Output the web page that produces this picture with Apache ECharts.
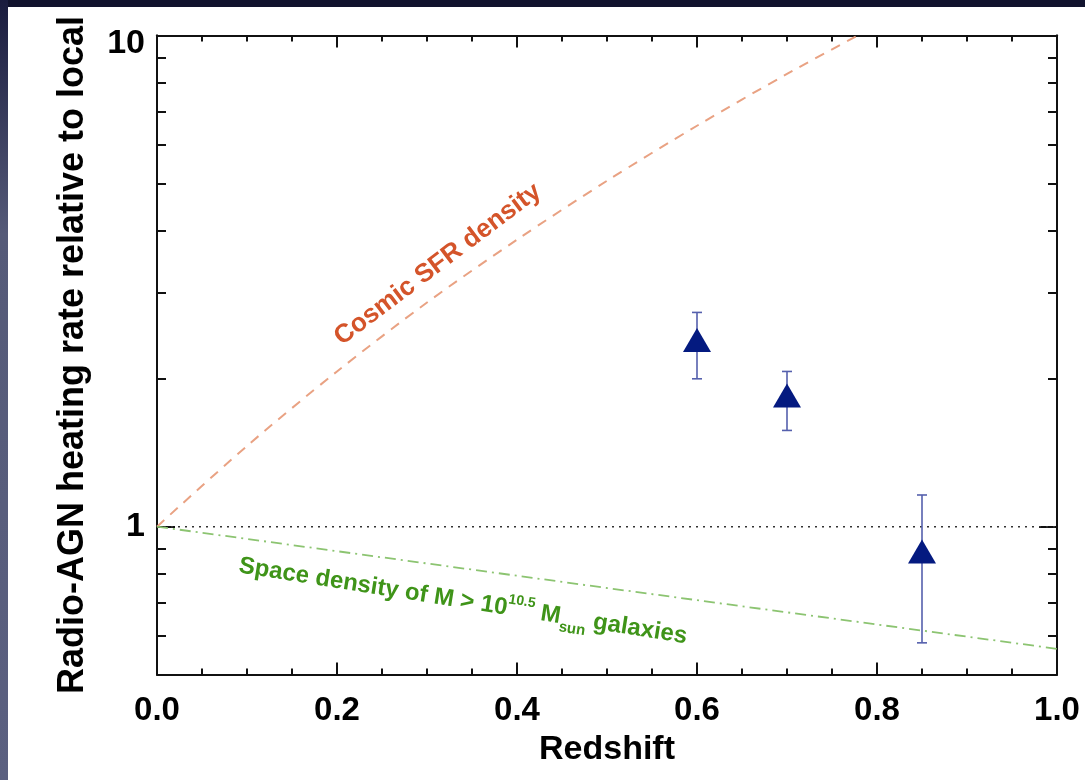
<!DOCTYPE html>
<html><head><meta charset="utf-8">
<script src="https://cdn.jsdelivr.net/npm/echarts@6/dist/echarts.min.js"></script>
<style>
html,body{margin:0;padding:0;width:1085px;height:780px;overflow:hidden;background:#11132e;}
#strip{position:absolute;left:0;top:0;width:8px;height:780px;background:linear-gradient(#1a1c3e,#555a78 30%,#5b6080);}
#chart{position:absolute;left:8px;top:7px;width:1077px;height:773px;background:#fff;}
</style></head><body><div id="strip"></div><div id="chart"></div>
<script>
// measured points (triangles) with error bars
const redshift = [0.6, 0.7, 0.85];
const rate = [2.40, 1.85, 0.89];
const rateLow = [2.00, 1.57, 0.58];
const rateHigh = [2.73, 2.07, 1.16];
// cosmic SFR density curve
const sfrZ = [0, 0.1, 0.2, 0.3, 0.4, 0.5, 0.6, 0.7, 0.8];
const sfrRate = [1.00, 1.46, 2.07, 2.86, 3.84, 5.06, 6.55, 8.35, 10.5];
// space density of massive galaxies
const massZ = [0, 0.5, 1.0];
const massRate = [1.00, 0.75, 0.564];
// unity reference line
const unityZ = [0, 1];
const unityRate = [1, 1];
// axis ticks
const yMajor = [1, 10];
const yMinor = [0.6, 0.7, 0.8, 0.9, 2, 3, 4, 5, 6, 7, 8, 9];
// annotation anchors
const sfrLabelPos = [0.312, 3.42];
const massLabelPos = [0.34, 0.705];

const FONT = '"Liberation Sans", Arial, sans-serif';
const AX = '#111';
const chart = echarts.init(document.getElementById('chart'));

const yLabelStyle = {fontFamily: FONT, fontWeight: 'bold', fontSize: 34, color: '#000'};
function yAx(pos, ticks, len, labels) {
  return {
    type: 'log', logBase: 10, min: 0.5, max: 10, position: pos,
    axisLine: {show: true, lineStyle: {color: AX, width: 2}},
    axisTick: {show: true, inside: true, length: len, customValues: ticks, lineStyle: {color: AX, width: 2}},
    axisLabel: labels ? {
      show: true, customValues: labels, margin: 12,
      formatter: v => (v >= 10 ? '{lo|' : '{n|') + v + '}',
      rich: {n: yLabelStyle, lo: Object.assign({padding: [16, 0, 0, 0]}, yLabelStyle)}
    } : {show: false},
    splitLine: {show: false}, minorTick: {show: false}
  };
}
const yAxes = [
  yAx('left', yMajor, 18, yMajor),
  yAx('left', yMinor, 9, null),
  yAx('right', yMajor, 18, null),
  yAx('right', yMinor, 9, null)
];
yAxes[0].name = 'Radio-AGN heating rate relative to local';
yAxes[0].nameLocation = 'middle';
yAxes[0].nameRotate = 90;
yAxes[0].nameGap = 66;
yAxes[0].nameTextStyle = {fontFamily: FONT, fontWeight: 'bold', fontSize: 36, color: '#000'};

function xAx(pos, showLabel) {
  return {
    type: 'value', min: 0, max: 1, interval: 0.2, position: pos,
    axisLine: {show: true, onZero: false, lineStyle: {color: AX, width: 2}},
    axisTick: {show: true, inside: true, length: 12, lineStyle: {color: AX, width: 2}},
    minorTick: {show: true, splitNumber: 4, length: 6, lineStyle: {color: AX, width: 2}},
    axisLabel: showLabel ? {show: true, formatter: v => v.toFixed(1), fontFamily: FONT, fontWeight: 'bold', fontSize: 33, color: '#000', margin: 20} : {show: false},
    splitLine: {show: false}
  };
}
const xAxes = [xAx('bottom', true), xAx('top', false)];
xAxes[0].name = 'Redshift';
xAxes[0].nameLocation = 'middle';
xAxes[0].nameGap = 52;
xAxes[0].nameTextStyle = {fontFamily: FONT, fontWeight: 'bold', fontSize: 34, color: '#000'};

const green = '#3f9419';
chart.setOption({
  animation: false,
  backgroundColor: '#fff',
  grid: {left: 149, right: 28, top: 28.5, bottom: 105.5, containLabel: false},
  xAxis: xAxes,
  yAxis: yAxes,
  series: [
    {
      type: 'line', data: unityZ.map((z, i) => [z, unityRate[i]]), symbol: 'none', silent: true,
      lineStyle: {color: '#333', width: 1.5, type: [2, 5]}, z: 1
    },
    {
      type: 'line', data: sfrZ.map((z, i) => [z, sfrRate[i]]), symbol: 'none', smooth: 0.3, silent: true, clip: true,
      lineStyle: {color: '#e9a283', width: 2, type: [10, 8]}, z: 2
    },
    {
      type: 'line', data: massZ.map((z, i) => [z, massRate[i]]), symbol: 'none', silent: true,
      lineStyle: {color: '#8cc471', width: 1.8, type: [11, 5, 2, 5]}, z: 2
    },
    {
      type: 'custom', z: 3, silent: true,
      data: redshift.map((z, i) => [z, rateLow[i], rateHigh[i]]),
      encode: {x: 0, y: [1, 2]},
      renderItem: function (params, api) {
        const x = api.value(0);
        const lo = api.coord([x, api.value(1)]);
        const hi = api.coord([x, api.value(2)]);
        const w = 5;
        const st = {stroke: '#5560ad', lineWidth: 1.6};
        return {type: 'group', children: [
          {type: 'line', shape: {x1: lo[0], y1: lo[1], x2: hi[0], y2: hi[1]}, style: st},
          {type: 'line', shape: {x1: lo[0] - w, y1: lo[1], x2: lo[0] + w, y2: lo[1]}, style: st},
          {type: 'line', shape: {x1: hi[0] - w, y1: hi[1], x2: hi[0] + w, y2: hi[1]}, style: st}
        ]};
      }
    },
    {
      type: 'scatter', data: redshift.map((z, i) => [z, rate[i]]), symbol: 'triangle', symbolSize: [28, 24],
      itemStyle: {color: '#041a80', opacity: 1}, z: 4, silent: true
    },
    {
      type: 'scatter', data: [sfrLabelPos], symbolSize: 0, silent: true, z: 5, itemStyle: {opacity: 1},
      label: {show: true, position: 'inside', rotate: 37, formatter: 'Cosmic SFR density',
        fontFamily: FONT, fontWeight: 'bold', fontSize: 26, color: '#d4542a', align: 'center', verticalAlign: 'middle'}
    },
    {
      type: 'scatter', data: [massLabelPos], symbolSize: 0, silent: true, z: 5, itemStyle: {opacity: 1},
      label: {show: true, position: 'inside', rotate: -9, align: 'center', verticalAlign: 'middle',
        formatter: '{n|Space density of M > 10}{sup|10.5}{n| M}{sub|sun}{n| galaxies}',
        rich: {
          n: {fontFamily: FONT, fontWeight: 'bold', fontSize: 24, color: green, lineHeight: 36, verticalAlign: 'middle'},
          sup: {fontFamily: FONT, fontWeight: 'bold', fontSize: 14, color: green, lineHeight: 14, verticalAlign: 'top', padding: [2, 0, 0, 0]},
          sub: {fontFamily: FONT, fontWeight: 'bold', fontSize: 15, color: green, lineHeight: 15, verticalAlign: 'bottom'}
        }}
    }
  ]
});
</script></body></html>
